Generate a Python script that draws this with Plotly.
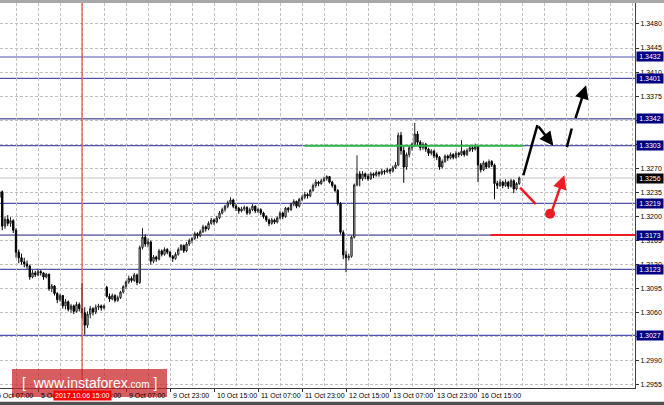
import plotly.graph_objects as go

# ---------------- data (EURUSD-like H1 candles) ----------------
first_bar = 9  # bar index of the first visible candle (bar 0 = 5 Oct 00:00)

opens = [1.3228, 1.3236, 1.3186, 1.3196, 1.3190, 1.3194, 1.3180, 1.3148, 1.3140, 1.3134,
         1.3131, 1.3128, 1.3112, 1.3118, 1.3115, 1.3120, 1.3118, 1.3112, 1.3116, 1.3095,
         1.3099, 1.3088, 1.3079, 1.3085, 1.3070, 1.3076, 1.3065, 1.3070, 1.3062, 1.3072,
         1.3066, 1.3060, 1.3042, 1.3058, 1.3066, 1.3061, 1.3068, 1.3070, 1.3067, 1.3097,
         1.3084, 1.3080, 1.3085, 1.3078, 1.3082, 1.3090, 1.3098, 1.3105, 1.3110, 1.3107,
         1.3115, 1.3104, 1.3155, 1.3170, 1.3160, 1.3163, 1.3135, 1.3141, 1.3138, 1.3150,
         1.3145, 1.3152, 1.3148, 1.3142, 1.3139, 1.3145, 1.3152, 1.3158, 1.3150, 1.3160,
         1.3165, 1.3168, 1.3175, 1.3172, 1.3178, 1.3185, 1.3182, 1.3190, 1.3195, 1.3192,
         1.3198, 1.3205, 1.3210, 1.3215, 1.3220, 1.3224, 1.3215, 1.3212, 1.3208, 1.3211,
         1.3213, 1.3205, 1.3210, 1.3215, 1.3208, 1.3210, 1.3205, 1.3200, 1.3195, 1.3190,
         1.3195, 1.3192, 1.3198, 1.3205, 1.3200, 1.3212, 1.3210, 1.3218, 1.3222, 1.3215,
         1.3225, 1.3228, 1.3232, 1.3230, 1.3238, 1.3245, 1.3250, 1.3248, 1.3252, 1.3255,
         1.3258, 1.3250, 1.3245, 1.3238, 1.3219, 1.3177, 1.3144, 1.3140, 1.3142, 1.3170,
         1.3246, 1.3262, 1.3255, 1.3262, 1.3258, 1.3255, 1.3262, 1.3260, 1.3264, 1.3262,
         1.3266, 1.3265, 1.3268, 1.3266, 1.3271, 1.3275, 1.3318, 1.3296, 1.3272, 1.3290,
         1.3300, 1.3305, 1.3320, 1.3308, 1.3300, 1.3305, 1.3298, 1.3292, 1.3295, 1.3290,
         1.3286, 1.3272, 1.3280, 1.3288, 1.3285, 1.3290, 1.3286, 1.3292, 1.3290, 1.3295,
         1.3290, 1.3296, 1.3300, 1.3298, 1.3302, 1.3275, 1.3268, 1.3278, 1.3272, 1.3280,
         1.3275, 1.3248, 1.3245, 1.3250, 1.3245, 1.3250, 1.3244, 1.3252, 1.3240, 1.3248]

highs = [1.3240, 1.3238, 1.3200, 1.3202, 1.3199, 1.3196, 1.3183, 1.3152, 1.3146, 1.3140,
         1.3136, 1.3130, 1.3122, 1.3121, 1.3124, 1.3122, 1.3119, 1.3118, 1.3117, 1.3102,
         1.3100, 1.3090, 1.3088, 1.3086, 1.3080, 1.3078, 1.3073, 1.3072, 1.3076, 1.3075,
         1.3103, 1.3068, 1.3062, 1.3070, 1.3068, 1.3072, 1.3073, 1.3072, 1.3072, 1.3099,
         1.3088, 1.3088, 1.3087, 1.3085, 1.3092, 1.3100, 1.3107, 1.3114, 1.3113, 1.3118,
         1.3117, 1.3158, 1.3183, 1.3174, 1.3168, 1.3165, 1.3144, 1.3143, 1.3153, 1.3152,
         1.3155, 1.3154, 1.3150, 1.3144, 1.3148, 1.3155, 1.3160, 1.3159, 1.3163, 1.3168,
         1.3170, 1.3178, 1.3177, 1.3181, 1.3188, 1.3187, 1.3193, 1.3198, 1.3197, 1.3201,
         1.3208, 1.3213, 1.3217, 1.3223, 1.3228, 1.3226, 1.3218, 1.3214, 1.3214, 1.3216,
         1.3215, 1.3213, 1.3218, 1.3216, 1.3213, 1.3212, 1.3207, 1.3202, 1.3197, 1.3198,
         1.3197, 1.3200, 1.3208, 1.3207, 1.3214, 1.3214, 1.3220, 1.3225, 1.3223, 1.3227,
         1.3231, 1.3236, 1.3234, 1.3240, 1.3248, 1.3254, 1.3252, 1.3255, 1.3258, 1.3260,
         1.3259, 1.3252, 1.3247, 1.3240, 1.3221, 1.3180, 1.3150, 1.3146, 1.3172, 1.3248,
         1.3289, 1.3266, 1.3266, 1.3264, 1.3262, 1.3265, 1.3264, 1.3267, 1.3266, 1.3269,
         1.3268, 1.3271, 1.3270, 1.3274, 1.3279, 1.3322, 1.3323, 1.3302, 1.3293, 1.3303,
         1.3308, 1.3336, 1.3324, 1.3311, 1.3308, 1.3307, 1.3300, 1.3298, 1.3297, 1.3293,
         1.3288, 1.3283, 1.3290, 1.3290, 1.3293, 1.3292, 1.3295, 1.3294, 1.3311, 1.3297,
         1.3299, 1.3303, 1.3302, 1.3306, 1.3304, 1.3278, 1.3281, 1.3280, 1.3283, 1.3282,
         1.3277, 1.3252, 1.3254, 1.3252, 1.3254, 1.3252, 1.3255, 1.3254, 1.3250, 1.3258]

lows = [1.3222, 1.3180, 1.3182, 1.3186, 1.3185, 1.3176, 1.3140, 1.3132, 1.3130, 1.3126,
        1.3124, 1.3108, 1.3110, 1.3112, 1.3113, 1.3114, 1.3108, 1.3110, 1.3092, 1.3090,
        1.3085, 1.3074, 1.3076, 1.3066, 1.3065, 1.3062, 1.3060, 1.3058, 1.3060, 1.3062,
        1.3052, 1.3028, 1.3038, 1.3052, 1.3056, 1.3058, 1.3064, 1.3063, 1.3065, 1.3082,
        1.3076, 1.3078, 1.3075, 1.3076, 1.3080, 1.3088, 1.3095, 1.3102, 1.3104, 1.3105,
        1.3100, 1.3102, 1.3152, 1.3156, 1.3155, 1.3130, 1.3132, 1.3134, 1.3136, 1.3142,
        1.3143, 1.3145, 1.3140, 1.3134, 1.3137, 1.3143, 1.3150, 1.3147, 1.3148, 1.3157,
        1.3161, 1.3166, 1.3168, 1.3170, 1.3176, 1.3178, 1.3180, 1.3188, 1.3188, 1.3190,
        1.3196, 1.3203, 1.3207, 1.3212, 1.3217, 1.3212, 1.3208, 1.3204, 1.3206, 1.3208,
        1.3202, 1.3203, 1.3208, 1.3205, 1.3205, 1.3202, 1.3197, 1.3192, 1.3186, 1.3188,
        1.3189, 1.3190, 1.3196, 1.3196, 1.3198, 1.3206, 1.3208, 1.3215, 1.3212, 1.3213,
        1.3222, 1.3225, 1.3226, 1.3228, 1.3236, 1.3242, 1.3244, 1.3246, 1.3250, 1.3252,
        1.3248, 1.3242, 1.3235, 1.3216, 1.3174, 1.3138, 1.3119, 1.3136, 1.3140, 1.3168,
        1.3244, 1.3244, 1.3252, 1.3254, 1.3252, 1.3253, 1.3256, 1.3258, 1.3258, 1.3260,
        1.3261, 1.3263, 1.3262, 1.3264, 1.3269, 1.3273, 1.3290, 1.3249, 1.3268, 1.3286,
        1.3296, 1.3302, 1.3304, 1.3296, 1.3297, 1.3294, 1.3288, 1.3289, 1.3285, 1.3282,
        1.3268, 1.3270, 1.3278, 1.3281, 1.3283, 1.3283, 1.3284, 1.3286, 1.3288, 1.3287,
        1.3288, 1.3294, 1.3294, 1.3296, 1.3250, 1.3264, 1.3266, 1.3269, 1.3270, 1.3272,
        1.3225, 1.3240, 1.3243, 1.3241, 1.3243, 1.3240, 1.3242, 1.3234, 1.3238, 1.3246]

closes = [1.3236, 1.3186, 1.3196, 1.3190, 1.3194, 1.3180, 1.3148, 1.3140, 1.3134, 1.3131,
          1.3128, 1.3112, 1.3118, 1.3115, 1.3120, 1.3118, 1.3112, 1.3116, 1.3095, 1.3099,
          1.3088, 1.3079, 1.3085, 1.3070, 1.3076, 1.3065, 1.3070, 1.3062, 1.3072, 1.3066,
          1.3060, 1.3042, 1.3058, 1.3066, 1.3061, 1.3068, 1.3070, 1.3067, 1.3070, 1.3084,
          1.3080, 1.3085, 1.3078, 1.3082, 1.3090, 1.3098, 1.3105, 1.3110, 1.3107, 1.3115,
          1.3104, 1.3155, 1.3170, 1.3160, 1.3163, 1.3135, 1.3141, 1.3138, 1.3150, 1.3145,
          1.3152, 1.3148, 1.3142, 1.3139, 1.3145, 1.3152, 1.3158, 1.3150, 1.3160, 1.3165,
          1.3168, 1.3175, 1.3172, 1.3178, 1.3185, 1.3182, 1.3190, 1.3195, 1.3192, 1.3198,
          1.3205, 1.3210, 1.3215, 1.3220, 1.3224, 1.3215, 1.3212, 1.3208, 1.3211, 1.3213,
          1.3205, 1.3210, 1.3215, 1.3208, 1.3210, 1.3205, 1.3200, 1.3195, 1.3190, 1.3195,
          1.3192, 1.3198, 1.3205, 1.3200, 1.3212, 1.3210, 1.3218, 1.3222, 1.3215, 1.3225,
          1.3228, 1.3232, 1.3230, 1.3238, 1.3245, 1.3250, 1.3248, 1.3252, 1.3255, 1.3258,
          1.3250, 1.3245, 1.3238, 1.3219, 1.3177, 1.3144, 1.3140, 1.3142, 1.3170, 1.3246,
          1.3262, 1.3255, 1.3262, 1.3258, 1.3255, 1.3262, 1.3260, 1.3264, 1.3262, 1.3266,
          1.3265, 1.3268, 1.3266, 1.3271, 1.3275, 1.3318, 1.3296, 1.3272, 1.3290, 1.3300,
          1.3305, 1.3320, 1.3308, 1.3300, 1.3305, 1.3298, 1.3292, 1.3295, 1.3288, 1.3286,
          1.3272, 1.3280, 1.3288, 1.3285, 1.3290, 1.3286, 1.3292, 1.3290, 1.3295, 1.3290,
          1.3296, 1.3300, 1.3298, 1.3302, 1.3275, 1.3268, 1.3278, 1.3272, 1.3280, 1.3275,
          1.3248, 1.3245, 1.3250, 1.3245, 1.3250, 1.3244, 1.3252, 1.3240, 1.3248, 1.3256]

tick_bars = [7, 23, 39, 55, 71, 87, 103, 119, 135, 151, 167, 183]
tick_labels = ["5 Oct 07:00", "5 Oct 23:00", "6 Oct 15:00", "9 Oct 07:00", "9 Oct 23:00",
               "10 Oct 15:00", "11 Oct 07:00", "11 Oct 23:00", "12 Oct 15:00",
               "13 Oct 07:00", "13 Oct 23:00", "16 Oct 15:00"]
price_ticks = [1.2955, 1.2990, 1.3025, 1.3060, 1.3095, 1.3130, 1.3165, 1.3200,
               1.3235, 1.3270, 1.3305, 1.3340, 1.3375, 1.3410, 1.3445, 1.3480]

levels = [1.3432, 1.3401, 1.3342, 1.3303, 1.3219, 1.3173, 1.3123, 1.3027]
dark_levels = [1.3342, 1.3173]
bid_price = 1.3256

event_bar = 39
event_label = "2017.10.06 15:00"

green_level, green_from, green_to = 1.3303, 120.0, 199.5
red_level, red_from, red_to = 1.3173, 187.5, 241.0

# forecast drawings (bar index, price)
bull_x = [199.5, 204.6, 210.4]
bull_y = [1.3260, 1.3333, 1.3303]
bull2_x = [215.3, 217.1, 218.3, 222.3]
bull2_y = [1.3301, 1.3328, 1.3341, 1.3391]
bear_x = [198.3, 204.0]
bear_y = [1.3242, 1.3218]
dot_x, dot_y = [209.2], [1.3204]
bear_up_x = [209.8, 214.4]
bear_up_y = [1.3207, 1.3260]

x_range = [9.18, 240.09]
y_range = [1.29506, 1.35105]

# ---------------- figure ----------------
bars = list(range(first_bar, first_bar + len(closes)))
FONT = "Liberation Sans, Arial, sans-serif"

fig = go.Figure()
fig.add_trace(go.Candlestick(
    x=bars, open=opens, high=highs, low=lows, close=closes,
    increasing=dict(line=dict(color="#222222", width=1), fillcolor="#dcdcdc"),
    decreasing=dict(line=dict(color="#000000", width=1), fillcolor="#000000"),
    whiskerwidth=0, showlegend=False, hoverinfo="skip"))

# forecast lines
fig.add_trace(go.Scatter(x=bull_x[:2], y=bull_y[:2], mode="lines",
                         line=dict(color="black", width=2.5), showlegend=False, hoverinfo="skip"))
fig.add_trace(go.Scatter(x=bull2_x[:2], y=bull2_y[:2], mode="lines",
                         line=dict(color="black", width=2.5), showlegend=False, hoverinfo="skip"))
fig.add_trace(go.Scatter(x=bear_x, y=bear_y, mode="lines",
                         line=dict(color="#ee1c25", width=2.5), showlegend=False, hoverinfo="skip"))
fig.add_trace(go.Scatter(x=dot_x, y=dot_y, mode="markers",
                         marker=dict(color="#ee1c25", size=10), showlegend=False, hoverinfo="skip"))

shapes = []
# top window chrome band & bottom border
shapes.append(dict(type="rect", xref="paper", yref="paper", x0=-0.01, x1=1.06,
                   y0=1.0, y1=1.02, fillcolor="#a8a8a8", line_width=0, layer="above"))
shapes.append(dict(type="rect", xref="paper", yref="paper", x0=-0.01, x1=1.06,
                   y0=-0.046, y1=-0.036, fillcolor="#505050", line_width=0, layer="above"))

for lv in levels:
    dark = lv in dark_levels
    shapes.append(dict(type="line", xref="paper", yref="y", x0=0, x1=1, y0=lv, y1=lv,
                       line=dict(color="#1e1e78" if dark else "#5252b0", width=1 if dark else 1.2),
                       layer="below"))
shapes.append(dict(type="line", xref="paper", yref="y", x0=0, x1=1, y0=bid_price, y1=bid_price,
                   line=dict(color="#c4c4c4", width=1), layer="below"))
shapes.append(dict(type="line", xref="x", yref="y", x0=green_from, x1=green_to,
                   y0=green_level, y1=green_level, line=dict(color="#2db84a", width=2), layer="above"))
shapes.append(dict(type="line", xref="x", yref="y", x0=red_from, x1=red_to,
                   y0=red_level, y1=red_level, line=dict(color="#ee1c25", width=2), layer="above"))
shapes.append(dict(type="line", xref="x", yref="paper", x0=event_bar, x1=event_bar, y0=0, y1=1,
                   line=dict(color="#ff2020", width=1), layer="above"))
# logo box
shapes.append(dict(type="rect", xref="paper", yref="paper", x0=12 / 635, x1=167 / 635,
                   y0=-0.0234, y1=0.0494, fillcolor="rgba(200,30,35,0.72)", line_width=0,
                   layer="above"))

annotations = []
# arrows
annotations.append(dict(x=bull_x[2], y=bull_y[2], ax=bull_x[1], ay=bull_y[1], xref="x", yref="y",
                        axref="x", ayref="y", text="", showarrow=True, arrowhead=2, arrowsize=1.1,
                        arrowwidth=2.5, arrowcolor="black", standoff=0))
annotations.append(dict(x=bull2_x[3], y=bull2_y[3], ax=bull2_x[2], ay=bull2_y[2], xref="x", yref="y",
                        axref="x", ayref="y", text="", showarrow=True, arrowhead=2, arrowsize=1.1,
                        arrowwidth=2.5, arrowcolor="black", standoff=0))
annotations.append(dict(x=bear_up_x[1], y=bear_up_y[1], ax=bear_up_x[0], ay=bear_up_y[0], xref="x",
                        yref="y", axref="x", ayref="y", text="", showarrow=True, arrowhead=2,
                        arrowsize=1.1, arrowwidth=2.5, arrowcolor="#ee1c25", standoff=0))

# x labels (MT4 style: text starts at the tick); placed in paper units so the
# first, partly cut-off label is still drawn
span = x_range[1] - x_range[0]
for b, lab in zip(tick_bars, tick_labels):
    annotations.append(dict(x=(b - x_range[0]) / span, y=0, xref="paper", yref="paper", text=lab,
                            showarrow=False, xanchor="left", yanchor="middle", xshift=1, yshift=-7,
                            font=dict(family=FONT, size=7, color="black")))
annotations.append(dict(x=event_bar, y=0, xref="x", yref="paper", text=event_label, showarrow=False,
                        xanchor="center", yanchor="middle", yshift=-7, bgcolor="#ff0000",
                        borderpad=1, font=dict(family=FONT, size=7, color="white")))

# price boxes on the right axis
for lv in levels:
    annotations.append(dict(x=1, y=lv, xref="paper", yref="y", text=f"{lv:.4f}", showarrow=False,
                            xanchor="left", yanchor="middle", xshift=1, width=26, height=9,
                            bgcolor="#000080", borderpad=0, align="center",
                            font=dict(family=FONT, size=7, color="white")))
annotations.append(dict(x=1, y=bid_price, xref="paper", yref="y", text=f"{bid_price:.4f}",
                        showarrow=False, xanchor="left", yanchor="middle", xshift=1, width=26,
                        height=9, bgcolor="#000000", borderpad=0, align="center",
                        font=dict(family=FONT, size=7, color="white")))

# logo text
annotations.append(dict(x=89 / 635, y=0.013, xref="paper", yref="paper", showarrow=False,
                        xanchor="center", yanchor="middle",
                        text="[&nbsp;&nbsp;www.instaforex<span style='font-size:10px'>.com</span>&nbsp;]",
                        font=dict(family=FONT, size=14, color="white")))

grid = dict(showgrid=True, gridcolor="#c0c0c0", gridwidth=1, griddash="3px,2px")

fig.update_layout(
    width=664, height=405,
    margin=dict(l=0, r=29, t=3, b=17),
    paper_bgcolor="white", plot_bgcolor="white",
    showlegend=False,
    shapes=shapes, annotations=annotations,
    xaxis=dict(range=x_range, rangeslider=dict(visible=False), tickmode="array",
               tickvals=tick_bars, showticklabels=False, ticks="outside", ticklen=3,
               tickcolor="#303030", showline=True, linecolor="#404040", linewidth=1,
               zeroline=False,
               minor=dict(tick0=7, dtick=8, showgrid=True, gridcolor="#c0c0c0",
                          griddash="3px,2px", ticks=""),
               **grid),
    yaxis=dict(range=y_range, side="right", tickmode="array", tickvals=price_ticks,
               ticktext=[f"{p:.4f}" for p in price_ticks], ticks="outside", ticklen=3,
               tickcolor="#303030", showline=True, linecolor="#404040", linewidth=1,
               zeroline=False, tickfont=dict(family=FONT, size=7, color="black"), **grid),
)

fig.write_html("out.html", config={"displayModeBar": False},
               post_script="document.body.style.margin='0';document.body.style.padding='0';"
                           "document.body.style.overflow='hidden';")
